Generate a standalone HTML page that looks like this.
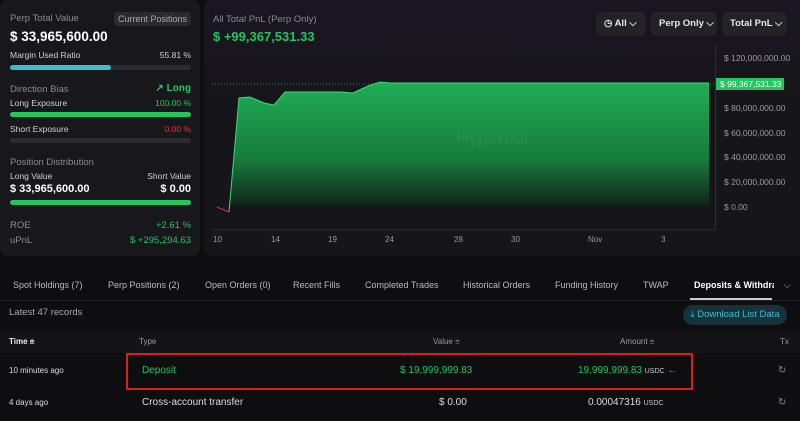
<!DOCTYPE html><html><head><meta charset="utf-8"><style>
body{margin:0;width:800px;height:421px;background:#0e0e11;font-family:"Liberation Sans",sans-serif;color:#ddd;overflow:hidden;position:relative}
.a{position:absolute;white-space:nowrap}
.p{position:absolute;background:#18181c;border-radius:8px}
.bar{position:absolute;height:5px;border-radius:3px;background:#2c2c31}
.g{color:#22c55e}.s{font-size:8.5px;color:#cfcfd3}.m{font-size:9.5px;color:#8a8a90}
.r{right:609px}
.btn{position:absolute;top:12px;height:24px;background:#222227;border-radius:6px;font-size:9.5px;font-weight:bold;color:#e8e8e8;line-height:24px;padding-left:8px;box-sizing:border-box}
.yl{position:absolute;left:724px;font-size:8.5px;color:#9a9aa0}
.xl{position:absolute;top:235px;font-size:8px;color:#9a9aa0}
.t{position:absolute;top:280px;font-size:9px;color:#bbb;white-space:nowrap}
</style></head><body>
<div class="p" style="left:0;top:0;width:200px;height:256px"></div>
<div class="p" style="left:204px;top:0;width:600px;height:256px;background:linear-gradient(180deg,#1c1522,#16161a 40%)"></div>
<div class="a m" style="left:10px;top:13px">Perp Total Value</div>
<div class="a r" style="top:12px;background:#2a2a2f;border-radius:4px;font-size:9px;color:#aaa;padding:2px 4px">Current Positions</div>
<div class="a" style="left:10px;top:29px;font-size:13.5px;font-weight:bold;color:#fff">$ 33,965,600.00</div>
<div class="a s" style="left:10px;top:50px">Margin Used Ratio</div><div class="a s r" style="top:50px">55.81 %</div>
<div class="bar" style="left:10px;top:65px;width:181px"></div><div class="bar" style="left:10px;top:65px;width:101px;background:#3bbcd0"></div>
<div class="a m" style="left:10px;top:84px">Direction Bias</div><div class="a g r" style="top:83px;font-size:10px;font-weight:bold">↗ Long</div>
<div class="a s" style="left:10px;top:98px">Long Exposure</div><div class="a g r" style="top:98px;font-size:8.5px">100.00 %</div>
<div class="bar" style="left:10px;top:112px;width:181px;background:#22c55e"></div>
<div class="a s" style="left:10px;top:124px">Short Exposure</div><div class="a r" style="top:124px;font-size:8.5px;color:#d33">0.00 %</div>
<div class="bar" style="left:10px;top:138px;width:181px"></div>
<div class="a m" style="left:10px;top:157px">Position Distribution</div>
<div class="a s" style="left:10px;top:171px">Long Value</div><div class="a s r" style="top:171px">Short Value</div>
<div class="a" style="left:10px;top:183px;font-size:11px;font-weight:bold;color:#fff">$ 33,965,600.00</div><div class="a r" style="top:183px;font-size:11px;font-weight:bold;color:#fff">$ 0.00</div>
<div class="bar" style="left:10px;top:200px;width:181px;background:#22c55e"></div>
<div class="a m" style="left:10px;top:220px">ROE</div><div class="a g r" style="top:220px;font-size:9.5px">+2.61 %</div>
<div class="a m" style="left:10px;top:235px">uPnL</div><div class="a g r" style="top:235px;font-size:9.5px">$ +295,294.63</div>

<div class="a m" style="left:213px;top:14px">All Total PnL (Perp Only)</div>
<div class="a g" style="left:213px;top:29px;font-size:13px;font-weight:bold">$ +99,367,531.33</div>
<div class="btn" style="left:596px;width:50px">◷ All ⌵</div>
<div class="btn" style="left:651px;width:66px">Perp Only ⌵</div>
<div class="btn" style="left:722px;width:65px">Total PnL ⌵</div>
<svg class="a" style="left:0;top:0" width="800" height="256">
<defs><linearGradient id="gr" x1="0" y1="0" x2="0" y2="1"><stop offset="0" stop-color="#1fae55"/><stop offset="0.6" stop-color="#177a3e"/><stop offset="1" stop-color="#111714"/></linearGradient></defs>
<path d="M229,212 L239,98 L250,97 L264,103 L274,105 L285,92 L340,92 L353,93 L368,86 L380,82 L390,83 L709,83 L709,206 L229,206Z" fill="url(#gr)"/>
<path d="M229,212 L239,98 L250,97 L264,103 L274,105 L285,92 L340,92 L353,93 L368,86 L380,82 L390,83 L709,83" fill="none" stroke="#3fd977" stroke-width="1"/>
<path d="M217,207 L229,212" stroke="#e03030" stroke-width="1.2"/>
<line x1="212" y1="84" x2="716" y2="84" stroke="#3a7" stroke-dasharray="1,2" stroke-width="0.7"/>
<line x1="212" y1="230" x2="716" y2="230" stroke="#2e2e40"/>
<line x1="715.5" y1="45" x2="715.5" y2="230" stroke="#2e2e40"/>
<text x="456" y="144" font-size="18" fill="#2a9a55" opacity="0.5" font-family="Liberation Sans">Hyperbot</text>
</svg>
<div class="yl" style="top:53px">$ 120,000,000.00</div>
<div class="a" style="left:716px;top:78px;width:64px;height:12px;background:#22c55e;color:#fff;font-size:8.5px;line-height:12px;padding-left:4px">$ 99,367,531.33</div>
<div class="yl" style="top:103px">$ 80,000,000.00</div>
<div class="yl" style="top:128px">$ 60,000,000.00</div>
<div class="yl" style="top:152px">$ 40,000,000.00</div>
<div class="yl" style="top:177px">$ 20,000,000.00</div>
<div class="yl" style="top:202px">$ 0.00</div>
<div class="xl" style="left:213px">10</div><div class="xl" style="left:271px">14</div><div class="xl" style="left:328px">19</div><div class="xl" style="left:385px">24</div><div class="xl" style="left:454px">28</div><div class="xl" style="left:511px">30</div><div class="xl" style="left:588px">Nov</div><div class="xl" style="left:661px">3</div>

<div class="t" style="left:13px">Spot Holdings (7)</div><div class="t" style="left:108px">Perp Positions (2)</div><div class="t" style="left:205px">Open Orders (0)</div><div class="t" style="left:293px">Recent Fills</div><div class="t" style="left:365px">Completed Trades</div><div class="t" style="left:463px">Historical Orders</div><div class="t" style="left:555px">Funding History</div><div class="t" style="left:643px">TWAP</div>
<div class="t" style="left:694px;color:#fff;font-weight:bold;width:80px;overflow:hidden">Deposits &amp; Withdraw</div><div class="t" style="left:784px">⌵</div>
<div class="a" style="left:690px;top:298px;width:82px;height:2px;background:#ccc"></div>
<div class="a" style="left:0;top:300px;width:800px;height:1px;background:#222"></div>
<div class="a" style="left:9px;top:307px;font-size:9.5px;color:#aaa">Latest 47 records</div>
<div class="a" style="left:683px;top:305px;width:104px;height:20px;border-radius:10px;background:#173238;color:#3bbcd0;font-size:9.5px;line-height:20px;text-align:center">⤓ Download List Data</div>
<div class="a" style="left:0;top:331px;width:800px;height:22px;background:#141417"></div>
<div class="a" style="left:9px;top:337px;font-size:8px;color:#eee;font-weight:bold">Time ⩧</div>
<div class="a" style="left:139px;top:337px;font-size:8px;color:#999">Type</div>
<div class="a" style="left:433px;top:337px;font-size:8px;color:#999">Value ⩧</div>
<div class="a" style="left:620px;top:337px;font-size:8px;color:#999">Amount ⩧</div>
<div class="a" style="left:780px;top:337px;font-size:8px;color:#999">Tx</div>
<div class="a" style="left:126px;top:353px;width:563px;height:33px;border:2px solid #d42020"></div>
<div class="a" style="left:9px;top:366px;font-size:8px;color:#ddd">10 minutes ago</div>
<div class="a g" style="left:142px;top:365px;font-size:10px">Deposit</div>
<div class="a g" style="left:400px;top:365px;font-size:10px">$ 19,999,999.83</div>
<div class="a g" style="left:578px;top:365px;font-size:10px">19,999,999.83 <span style="font-size:7px;color:#ccc">USDC</span> ←</div>
<div class="a" style="left:778px;top:365px;font-size:10px;color:#888">↻</div>
<div class="a" style="left:9px;top:398px;font-size:8px;color:#ddd">4 days ago</div>
<div class="a" style="left:142px;top:397px;font-size:10px;color:#ddd">Cross-account transfer</div>
<div class="a" style="left:439px;top:397px;font-size:10px;color:#ddd">$ 0.00</div>
<div class="a" style="left:588px;top:397px;font-size:10px;color:#ddd">0.00047316 <span style="font-size:7px;color:#ccc">USDC</span></div>
<div class="a" style="left:778px;top:397px;font-size:10px;color:#888">↻</div>
</body></html>
